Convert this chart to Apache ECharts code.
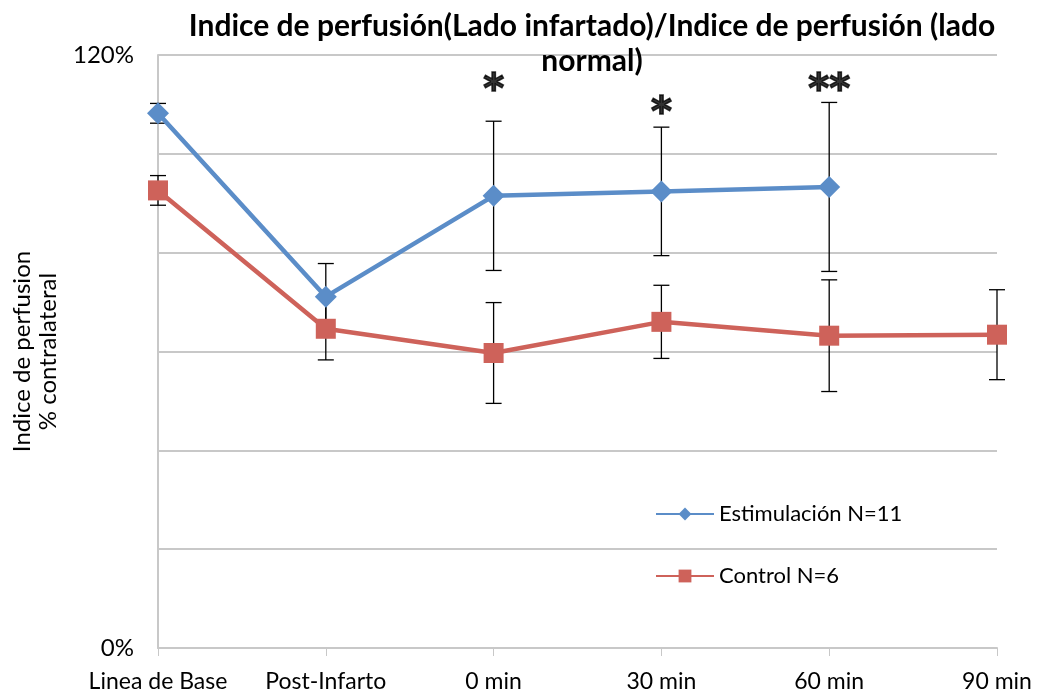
<!DOCTYPE html>
<html>
<head>
<meta charset="utf-8">
<script src="https://cdn.jsdelivr.net/npm/echarts@6/dist/echarts.min.js"></script>
<style>
  html, body { margin: 0; padding: 0; background: #fff; }
  #chart { width: 1038px; height: 698px; }
</style>
</head>
<body>
<div id="chart"></div>
<script>
// data (percent of contralateral side)
const categories = ['Linea de Base', 'Post-Infarto', '0 min', '30 min', '60 min', '90 min'];
const estimulacion = [108.2, 71.1, 91.5, 92.4, 93.3, null];
const estimulacionErr = [2.0, 6.7, 15.1, 13.0, 17.1, null];
const control = [92.6, 64.6, 59.7, 66.0, 63.2, 63.4];
const controlErr = [3.0, 6.3, 10.2, 7.4, 11.3, 9.1];
// significance marks and the level they sit at
const signif = ['', '', '*', '*', '**', ''];
const signifAt = [null, null, 114.4, 109.7, 114.4, null];
const yTicks = [0, 120];

const FONT = 'Lato';
const BLUE = '#5B8DC8';
const RED = '#CE625A';

const chart = echarts.init(document.getElementById('chart'));

function errData(vals, errs) {
    return vals.map((v, i) => v == null ? null : [i, v - errs[i], v + errs[i]]).filter(d => d);
}

function errRender(params, api) {
    const x = api.value(0);
    const lo = api.coord([x, api.value(1)]);
    const hi = api.coord([x, api.value(2)]);
    const w = 8;
    const style = { stroke: '#000', lineWidth: 1.3, fill: null };
    return {
        type: 'group',
        children: [
            { type: 'line', shape: { x1: lo[0], y1: lo[1], x2: hi[0], y2: hi[1] }, style },
            { type: 'line', shape: { x1: lo[0] - w, y1: lo[1], x2: lo[0] + w, y2: lo[1] }, style },
            { type: 'line', shape: { x1: hi[0] - w, y1: hi[1], x2: hi[0] + w, y2: hi[1] }, style }
        ]
    };
}

const options = {
    animation: false,
    title: {
        text: 'Indice de perfusión(Lado infartado)/Indice de perfusión (lado\nnormal)',
        left: 587,
        top: 4,
        textAlign: 'center',
        textStyle: { fontFamily: FONT, fontWeight: 'bold', fontSize: 30, color: '#000', lineHeight: 35 }
    },
    legend: {
        orient: 'vertical',
        left: 650,
        top: 498,
        itemWidth: 58,
        itemHeight: 16,
        itemGap: 40,
        data: ['Estimulación N=11', 'Control N=6'],
        textStyle: { fontFamily: FONT, fontSize: 22, color: '#000' }
    },
    grid: { left: 158, right: 41, top: 55, bottom: 50 },
    xAxis: {
        type: 'category',
        data: categories,
        boundaryGap: false,
        axisLine: { lineStyle: { color: '#c8c8c8', width: 2 } },
        axisTick: { show: true, length: 8, interval: 0, lineStyle: { color: '#c8c8c8' } },
        axisLabel: { interval: 0, hideOverlap: false, margin: 22, fontFamily: FONT, fontSize: 23, color: '#000' }
    },
    yAxis: {
        type: 'value',
        min: 0,
        max: 120,
        interval: 20,
        name: 'Indice de perfusion\n% contralateral',
        nameLocation: 'middle',
        nameRotate: 90,
        nameGap: 97,
        nameTextStyle: { fontFamily: FONT, fontSize: 24, color: '#000', lineHeight: 26 },
        axisLine: { show: true, lineStyle: { color: '#c8c8c8', width: 2 } },
        axisTick: { show: false },
        splitLine: { lineStyle: { color: '#c8c8c8', width: 2 } },
        axisLabel: {
            margin: 24,
            fontFamily: FONT, fontSize: 24, color: '#000',
            formatter: v => yTicks.includes(v) ? v + '%' : ''
        }
    },
    series: [
        {
            type: 'custom',
            renderItem: errRender,
            data: errData(estimulacion, estimulacionErr),
            z: 1,
            silent: true
        },
        {
            type: 'custom',
            renderItem: errRender,
            data: errData(control, controlErr),
            z: 1,
            silent: true
        },
        {
            name: 'Estimulación N=11',
            type: 'line',
            data: estimulacion,
            color: BLUE,
            symbol: 'diamond',
            symbolSize: 22,
            lineStyle: { width: 4.5 },
            z: 3
        },
        {
            name: 'Control N=6',
            type: 'line',
            data: control,
            color: RED,
            symbol: 'rect',
            symbolSize: 20,
            lineStyle: { width: 4.5 },
            z: 4
        },
        {
            type: 'scatter',
            data: signifAt.map((v, i) => [i, v, signif[i]]).filter(d => d[1] != null),
            symbolSize: 2,
            itemStyle: { color: 'rgba(0,0,0,0)' },
            silent: true,
            z: 5,
            label: {
                show: true,
                position: 'inside',
                offset: [0, 9],
                formatter: p => p.data[2],
                fontFamily: 'DejaVu Sans',
                fontWeight: 'bold',
                fontSize: 40,
                color: '#000',
                textBorderColor: '#000',
                textBorderWidth: 1.5
            }
        }
    ]
};

chart.setOption(options);
</script>
</body>
</html>
